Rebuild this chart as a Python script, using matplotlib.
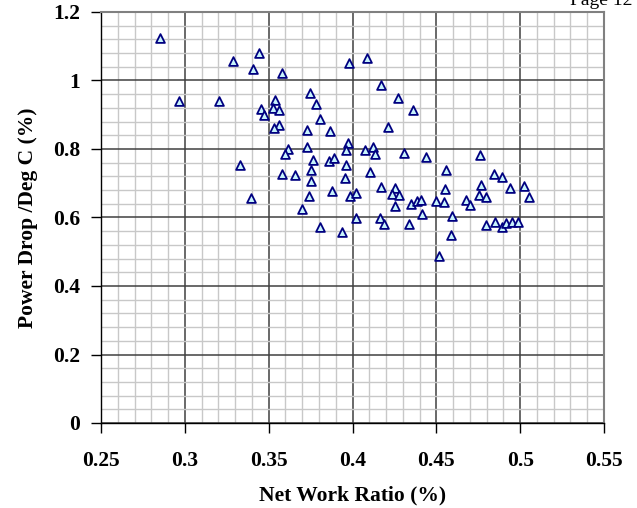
import matplotlib
matplotlib.use('Agg')
import matplotlib.pyplot as plt
from matplotlib.ticker import MultipleLocator, FormatStrFormatter

# Net work ratio (%)
net_work_ratio = [
    0.285, 0.2965, 0.3205, 0.329, 0.3443, 0.3408, 0.358, 0.3535, 0.3457, 0.3525,
    0.3561, 0.3471, 0.3564, 0.3529, 0.3613, 0.360, 0.398, 0.4087, 0.4172, 0.4274,
    0.4359, 0.3749, 0.3785, 0.3807, 0.373, 0.3865, 0.421, 0.373, 0.3972, 0.3964,
    0.4073, 0.4121, 0.4137, 0.4309, 0.4439, 0.3767, 0.3857, 0.3888, 0.3964, 0.333,
    0.3581, 0.366, 0.375, 0.375, 0.3958, 0.4107, 0.388, 0.3741, 0.3988, 0.4023,
    0.3394, 0.3701, 0.4023, 0.4164, 0.4186, 0.4337, 0.3809, 0.3936, 0.476, 0.456,
    0.4844, 0.489, 0.4172, 0.4937, 0.5025, 0.4765, 0.5051, 0.4552, 0.4252, 0.4238,
    0.428, 0.4252, 0.435, 0.4387, 0.4409, 0.450, 0.4546, 0.4679, 0.4703, 0.4757,
    0.4795, 0.4417, 0.4594, 0.4796, 0.4852, 0.489, 0.4915, 0.4953, 0.4989, 0.4586,
    0.4516,
]

# Power drop per degree C (%)
power_drop = [
    1.125, 0.940, 0.940, 1.057, 1.080, 1.035, 1.023, 0.943, 0.918, 0.919,
    0.913, 0.900, 0.871, 0.860, 0.799, 0.786, 1.052, 1.066, 0.988, 0.950,
    0.915, 0.964, 0.932, 0.888, 0.856, 0.852, 0.863, 0.807, 0.817, 0.797,
    0.797, 0.807, 0.786, 0.789, 0.776, 0.768, 0.765, 0.773, 0.752, 0.752,
    0.728, 0.724, 0.740, 0.708, 0.714, 0.7335, 0.678, 0.664, 0.664, 0.672,
    0.658, 0.626, 0.600, 0.600, 0.580, 0.580, 0.572, 0.557, 0.783, 0.740,
    0.728, 0.718, 0.689, 0.685, 0.693, 0.696, 0.659, 0.682, 0.685, 0.669,
    0.665, 0.635, 0.640, 0.649, 0.652, 0.647, 0.644, 0.652, 0.636, 0.665,
    0.661, 0.609, 0.605, 0.577, 0.588, 0.573, 0.585, 0.586, 0.588, 0.549,
    0.489,
]

plt.rcParams['font.family'] = ['Liberation Serif', 'DejaVu Serif']
plt.rcParams['font.weight'] = 'bold'

fig = plt.figure(figsize=(6.37, 5.08), dpi=100)
ax = fig.add_axes([101 / 637, 1 - 423 / 508, 503 / 637, 411 / 508])

ax.set_xlim(0.25, 0.55)
ax.set_ylim(0, 1.2)

# Excel style grid
ax.xaxis.set_major_locator(MultipleLocator(0.05))
ax.xaxis.set_minor_locator(MultipleLocator(0.01))
ax.yaxis.set_major_locator(MultipleLocator(0.2))
ax.yaxis.set_minor_locator(MultipleLocator(0.04))
ax.grid(which='minor', color='#c8c8c8', linewidth=1.0)
ax.grid(which='major', color='#404040', linewidth=1.1)
ax.set_axisbelow(True)

ax.xaxis.set_major_formatter(FormatStrFormatter('%g'))
ax.yaxis.set_major_formatter(FormatStrFormatter('%g'))

ax.scatter(net_work_ratio, power_drop, marker='^', s=40,
           facecolor='#c8f4fc', edgecolor='#000080', linewidth=1.3, zorder=3)

for side in ['left', 'bottom']:
    ax.spines[side].set_color('black')
    ax.spines[side].set_linewidth(1.0)
for side in ['right', 'top']:
    ax.spines[side].set_color('#808080')
    ax.spines[side].set_linewidth(1.5)

ax.tick_params(which='major', direction='out', length=7, width=1.0,
               labelsize=15.5, color='black')
ax.tick_params(axis='x', which='major', pad=13)
ax.tick_params(axis='y', which='major', pad=8)
ax.tick_params(which='minor', length=0)

ax.set_xlabel('Net Work Ratio (%)', fontsize=15.5, fontweight='bold')
ax.xaxis.set_label_coords(0.5, -0.153)
ax.xaxis.label.set_verticalalignment('top')
ax.set_ylabel('Power Drop /Deg C (%)', fontsize=15.5, fontweight='bold')
ax.yaxis.set_label_coords(-0.125, 0.5)

fig.text(632 / 637, 1 - 5 / 508, 'Page 12', ha='right', va='baseline',
         fontsize=14, fontweight='normal')

plt.savefig('out.png', dpi=100)
